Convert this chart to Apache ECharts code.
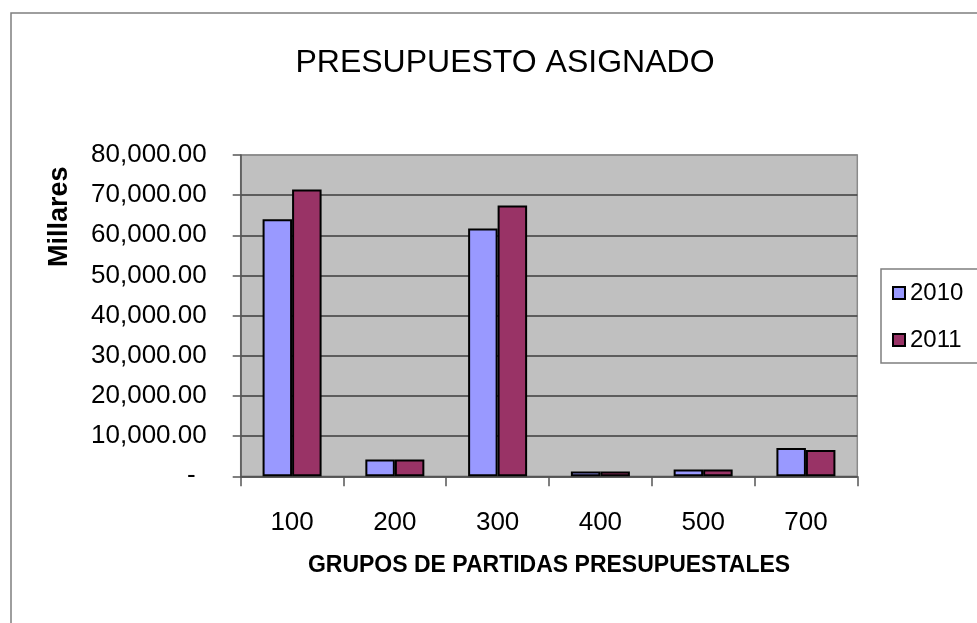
<!DOCTYPE html>
<html>
<head>
<meta charset="utf-8">
<script src="https://cdn.jsdelivr.net/npm/echarts@6/dist/echarts.min.js"></script>
<style>
html,body{margin:0;padding:0;background:#fff;}
#c{width:977px;height:623px;}
</style>
</head>
<body>
<div id="c"></div>
<script>
var categories = ['100', '200', '300', '400', '500', '700'];
var seriesNames = ['2010', '2011'];
var values2010 = [64000, 4200, 61700, 1200, 1700, 7050];
var values2011 = [71400, 4200, 67400, 1200, 1700, 6550];
var yMin = 0, yMax = 80000, yStep = 10000;
var titleText = 'PRESUPUESTO ASIGNADO';
var xName = 'GRUPOS DE PARTIDAS PRESUPUESTALES';
var yName = 'Millares';

var FONT = '"Liberation Sans", Arial, sans-serif';
var chart = echarts.init(document.getElementById('c'), null, {renderer: 'canvas'});

function fmt(v) {
  if (v === 0) return '{d|-}';
  return v.toLocaleString('en-US', {minimumFractionDigits: 2, maximumFractionDigits: 2});
}

var gridColors = ['#3c3c3c','#3c3c3c','#3c3c3c','#3c3c3c','#3c3c3c','#3c3c3c','#3c3c3c','#3c3c3c','#8a8a8a'];

chart.setOption({
  backgroundColor: '#ffffff',
  animation: false,
  graphic: [{
    type: 'rect',
    shape: {x: 11, y: 13, width: 1100, height: 800},
    style: {fill: 'none', stroke: '#7f7f7f', lineWidth: 1.5},
    silent: true
  }],
  title: {
    text: titleText,
    left: 500,
    top: 42,
    textAlign: 'center',
    textStyle: {fontFamily: FONT, fontSize: 32, fontWeight: 'normal', color: '#000'}
  },
  legend: {
    data: seriesNames,
    orient: 'vertical',
    left: 881,
    top: 269,
    padding: [12, 60, 11, 11],
    itemGap: 23,
    itemWidth: 12,
    itemHeight: 12,
    icon: 'rect',
    backgroundColor: '#ffffff',
    borderColor: '#7f7f7f',
    borderWidth: 1.5,
    borderRadius: 0,
    textStyle: {fontFamily: FONT, fontSize: 24, color: '#000', lineHeight: 24}
  },
  grid: {
    left: 240.7,
    right: 119.7,
    top: 155,
    bottom: 146.7,
    show: true,
    backgroundColor: '#c0c0c0',
    borderColor: '#8a8a8a',
    borderWidth: 1.5
  },
  xAxis: {
    type: 'category',
    data: categories,
    boundaryGap: true,
    name: xName,
    nameLocation: 'middle',
    nameGap: 78,
    nameTextStyle: {fontFamily: FONT, fontSize: 23, fontWeight: 'bold', color: '#000'},
    axisLine: {show: true, lineStyle: {color: '#555', width: 1.5}},
    axisTick: {show: true, alignWithLabel: false, length: 10, lineStyle: {color: '#555', width: 1.5}},
    axisLabel: {fontFamily: FONT, fontSize: 26, color: '#000', margin: 34},
    splitLine: {show: false}
  },
  yAxis: {
    type: 'value',
    min: yMin,
    max: yMax,
    interval: yStep,
    name: yName,
    nameLocation: 'middle',
    nameRotate: 90,
    nameGap: 168,
    nameTextStyle: {fontFamily: FONT, fontSize: 27, fontWeight: 'bold', color: '#000', padding: [0, 0, 0, 198]},
    axisLine: {show: true, lineStyle: {color: '#555', width: 1.5}},
    axisTick: {show: true, inside: false, length: 8, lineStyle: {color: '#555', width: 1.5}},
    axisLabel: {
      fontFamily: FONT, fontSize: 26, color: '#000', margin: 34,
      formatter: fmt,
      rich: {d: {fontFamily: FONT, fontSize: 26, color: '#000', padding: [0, 11, 0, 0]}}
    },
    splitLine: {show: true, lineStyle: {color: gridColors, width: 1.5}}
  },
  series: [{
    name: seriesNames[0],
    type: 'bar',
    data: values2010,
    barWidth: 29.5,
    barGap: '0%',
    itemStyle: {color: '#9999ff', borderColor: '#000', borderWidth: 2}
  }, {
    name: seriesNames[1],
    type: 'bar',
    data: values2011,
    barWidth: 29.5,
    barGap: '0%',
    itemStyle: {color: '#993366', borderColor: '#000', borderWidth: 2}
  }]
});
</script>
</body>
</html>
